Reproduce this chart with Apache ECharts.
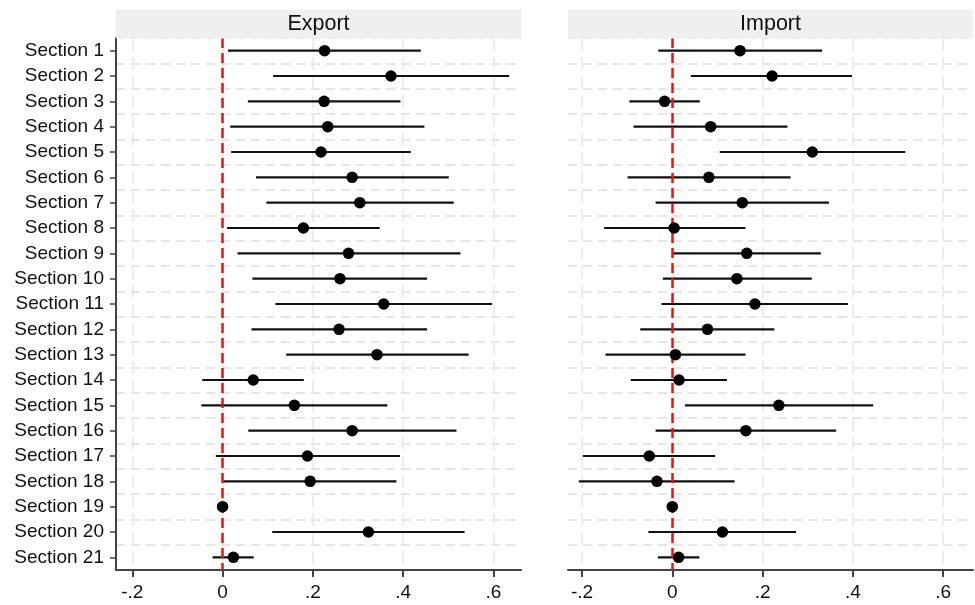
<!DOCTYPE html>
<html>
<head>
<meta charset="utf-8">
<script src="https://cdn.jsdelivr.net/npm/echarts@6/dist/echarts.min.js"></script>
<style>
  html, body { margin: 0; padding: 0; background: #fff; }
  #chart { width: 975px; height: 605px; }
</style>
</head>
<body>
<div id="chart"></div>
<script>
// Section labels (top to bottom)
const sections = ['Section 1','Section 2','Section 3','Section 4','Section 5','Section 6','Section 7',
  'Section 8','Section 9','Section 10','Section 11','Section 12','Section 13','Section 14',
  'Section 15','Section 16','Section 17','Section 18','Section 19','Section 20','Section 21'];

// Export coefficients with confidence bounds
const exportEst = [0.226,0.373,0.225,0.233,0.218,0.287,0.304,0.179,0.279,0.260,0.357,0.258,0.342,0.068,0.159,0.287,0.188,0.194,0,0.323,0.024];
const exportLo  = [0.012,0.112,0.056,0.017,0.019,0.074,0.097,0.010,0.033,0.066,0.117,0.064,0.141,-0.045,-0.047,0.057,-0.015,0.002,0,0.110,-0.022];
const exportHi  = [0.439,0.635,0.394,0.447,0.417,0.501,0.512,0.348,0.527,0.453,0.597,0.453,0.545,0.180,0.365,0.518,0.393,0.385,0,0.536,0.069];

// Import coefficients with confidence bounds
const importEst = [0.150,0.221,-0.017,0.085,0.310,0.081,0.155,0.004,0.165,0.143,0.183,0.078,0.007,0.015,0.236,0.163,-0.051,-0.034,0,0.111,0.014];
const importLo  = [-0.031,0.041,-0.095,-0.086,0.105,-0.099,-0.037,-0.151,0.001,-0.021,-0.024,-0.071,-0.148,-0.092,0.028,-0.037,-0.198,-0.207,0,-0.053,-0.032];
const importHi  = [0.332,0.398,0.061,0.255,0.516,0.262,0.347,0.162,0.329,0.309,0.389,0.226,0.162,0.121,0.445,0.363,0.095,0.138,0,0.274,0.060];

// x-axis ticks
const xTickValues = [-0.2, 0, 0.2, 0.4, 0.6];
const xTickLabels = ['-.2', '0', '.2', '.4', '.6'];

const panelTitles = ['Export', 'Import'];

const FONT = '"Liberation Sans", Arial, sans-serif';
const TEXT = '#111111';
const AXIS = '#444444';

const chart = echarts.init(document.getElementById('chart'), null, { renderer: 'canvas' });

const grids = [
  { left: 116, right: 454, top: 38, bottom: 35 },
  { left: 568, right: 2, top: 38, bottom: 35 }
];
const xRanges = [[-0.236, 0.661], [-0.231, 0.666]];

function tickLabel(v) {
  const i = xTickValues.findIndex(t => Math.abs(t - v) < 1e-9);
  return i >= 0 ? xTickLabels[i] : '';
}

const xAxes = grids.map((g, k) => ({
  type: 'value',
  gridIndex: k,
  min: xRanges[k][0],
  max: xRanges[k][1],
  axisLine: { show: true, onZero: false, lineStyle: { color: AXIS, width: 2 } },
  axisTick: { show: true, length: 7, customValues: xTickValues, lineStyle: { color: AXIS, width: 2 } },
  axisLabel: {
    customValues: xTickValues, margin: 13, color: TEXT,
    fontFamily: FONT, fontSize: 19, formatter: tickLabel
  },
  splitLine: { show: false }
}));

const yAxes = grids.map((g, k) => ({
  type: 'category',
  gridIndex: k,
  data: sections,
  inverse: true,
  boundaryGap: true,
  axisLine: { show: k === 0, onZero: false, lineStyle: { color: AXIS, width: 2 } },
  axisTick: { show: k === 0, alignWithLabel: true, length: 6, lineStyle: { color: AXIS, width: 1.5 } },
  axisLabel: { show: k === 0, margin: 12, color: TEXT, fontFamily: FONT, fontSize: 19 },
  splitLine: { show: true, lineStyle: { color: '#dedede', width: 1.5, type: [9, 6] } }
}));

function ciSeries(k, lo, hi) {
  return {
    type: 'custom',
    xAxisIndex: k, yAxisIndex: k,
    z: 3,
    data: sections.map((s, i) => [lo[i], hi[i], i]),
    encode: { x: [0, 1], y: 2 },
    renderItem: function (params, api) {
      const a = api.coord([api.value(0), api.value(2)]);
      const b = api.coord([api.value(1), api.value(2)]);
      return {
        type: 'line',
        shape: { x1: a[0], y1: a[1], x2: b[0], y2: b[1] },
        style: { stroke: '#111111', lineWidth: 2.2 }
      };
    }
  };
}

function vGridSeries(k) {
  return {
    type: 'line',
    xAxisIndex: k, yAxisIndex: k,
    data: [],
    z: 1,
    markLine: {
      silent: true, symbol: 'none', z: 1, animation: false,
      label: { show: false },
      lineStyle: { color: '#e8e8e8', width: 1.5, type: [13, 6] },
      data: xTickValues.map(v => ({ xAxis: v }))
    }
  };
}

function pointSeries(k, est) {
  return {
    type: 'scatter',
    xAxisIndex: k, yAxisIndex: k,
    z: 10,
    symbol: 'circle',
    symbolSize: 11.5,
    itemStyle: { color: '#000000', opacity: 1 },
    data: sections.map((s, i) => [est[i], i]),
    markLine: {
      silent: true, symbol: 'none', z: 5, animation: false,
      label: { show: false },
      lineStyle: { color: '#f01010', width: 2.5, type: [10, 5] },
      data: [{ xAxis: 0 }]
    }
  };
}

const headerGraphics = [];
grids.forEach((g, k) => {
  const x0 = g.left, x1 = 975 - g.right;
  headerGraphics.push({
    type: 'rect', z: 100,
    shape: { x: x0, y: 9.5, width: x1 - x0, height: 29 },
    style: { fill: '#efefef' }
  });
  headerGraphics.push({
    type: 'text', z: 101,
    x: (x0 + x1) / 2, y: 24,
    style: {
      text: panelTitles[k], textAlign: 'center', textVerticalAlign: 'middle',
      font: '21.5px ' + FONT, fill: TEXT
    }
  });
});

chart.setOption({
  animation: false,
  backgroundColor: '#ffffff',
  grid: grids,
  xAxis: xAxes,
  yAxis: yAxes,
  graphic: headerGraphics,
  series: [
    vGridSeries(0), ciSeries(0, exportLo, exportHi), pointSeries(0, exportEst),
    vGridSeries(1), ciSeries(1, importLo, importHi), pointSeries(1, importEst)
  ]
});
</script>
</body>
</html>
